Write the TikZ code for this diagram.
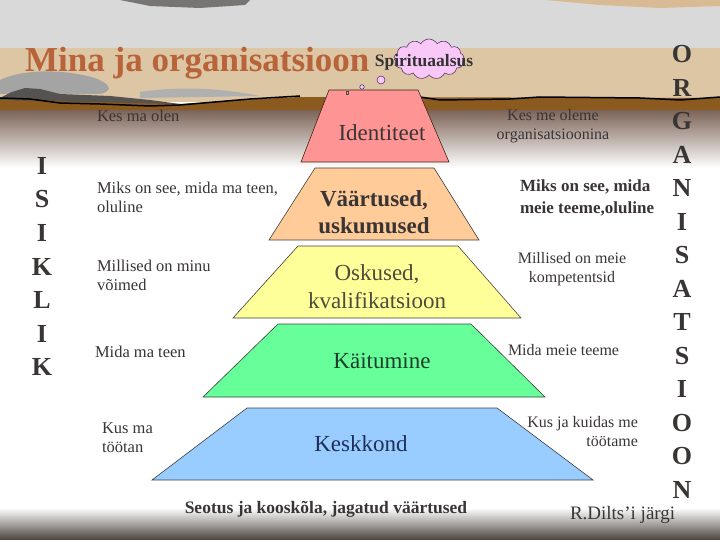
\documentclass[tikz,border=0pt]{standalone}
\usepackage{fontspec}
\setmainfont{Liberation Serif}
\usetikzlibrary{shapes.symbols}
\definecolor{sky}{HTML}{D9D9D9}
\definecolor{sand}{HTML}{DCC6A3}
\definecolor{hillgrey}{HTML}{8E8E8E}
\definecolor{hilldark}{HTML}{555250}
\definecolor{mudbrown}{HTML}{8B5A1E}
\definecolor{fadebrown}{HTML}{7E665A}
\definecolor{floordark}{HTML}{4B423A}
\definecolor{titlecol}{HTML}{B8633A}
\definecolor{txt}{HTML}{3A3535}
\definecolor{cloudfill}{HTML}{F9C8F9}
\definecolor{cloudline}{HTML}{5A3A6A}
\definecolor{pinkf}{HTML}{FF9494}
\definecolor{orangef}{HTML}{FFCC99}
\definecolor{yellowf}{HTML}{FFFF99}
\definecolor{greenf}{HTML}{66FF99}
\definecolor{bluef}{HTML}{99CCFF}
\definecolor{greentxt}{HTML}{1E3F2B}
\definecolor{bluetxt}{HTML}{1F2F5A}
\newcommand\fsz[2]{\fontsize{#1}{#2}\selectfont}
\begin{document}
\begin{tikzpicture}[x=1pt,y=-1pt,
  lbl/.style={inner sep=0pt,outer sep=0pt,text=txt},
  bigletter/.style={inner sep=0pt,outer sep=0pt,text=txt,font=\fsz{26}{30}\bfseries},
  tier/.style={draw=black!75,line width=0.6pt},
  bubble/.style={circle,draw=cloudline,fill=cloudfill,inner sep=0pt,line width=0.6pt}]
\useasboundingbox (0,0) rectangle (720,540);
% background
\fill[white] (0,0) rectangle (720,540);
\fill[sky] (0,0) rectangle (720,52);
\fill[hilldark!80] (120,0) -- (250,0) -- (245,5) -- (200,8) -- (150,6) -- cycle;
\fill[sand!85!brown] (545,0) -- (720,0) -- (720,6) -- (660,8) -- (600,5) -- cycle;
\fill[sand] (0,48) rectangle (720,102);
\fill[hillgrey!80] (0,80) .. controls (20,70) and (60,68) .. (95,78) .. controls (115,86) and (110,92) .. (100,94) -- (0,94) -- cycle;
\fill[hillgrey!70] (140,92) .. controls (180,86) and (220,88) .. (260,96) -- (140,98) -- cycle;
\fill[hilldark] (0,98) -- (12,92) -- (25,88) -- (40,89) -- (60,94) -- (110,96) -- (150,100) -- (180,104) -- (0,106) -- cycle;
\fill[mudbrown] (0,100) -- (180,104) -- (240,100) -- (300,97) -- (720,98) -- (720,112) -- (0,112) -- cycle;
\draw[black,line width=1.5pt] (0,98) -- (30,99) -- (60,103) -- (100,104) -- (150,106) -- (180,105) -- (250,99) -- (300,96)
  (420,97) -- (440,100) -- (510,99) -- (540,97) -- (640,98) -- (680,100) -- (720,97);
\shade[top color=fadebrown,bottom color=white] (0,111) rectangle (720,168);
\shade[top color=white,bottom color=floordark] (0,508) rectangle (720,540);
% title
\node[inner sep=0pt,anchor=base west,text=titlecol,font=\fsz{35}{40}\bfseries] (title) at (25,72) {Mina ja organisatsioon};
% cloud
\node[cloud,cloud puffs=13,cloud puff arc=120,aspect=1.7,draw=cloudline,fill=cloudfill,line width=0.6pt,
  minimum width=70pt,minimum height=40pt,inner sep=0pt] (cloud) at (429,59) {};
\node[bubble,minimum size=8pt] (bub1) at (381,80) {};
\node[bubble,minimum size=4.5pt] (bub2) at (362,87) {};
\node[lbl,font=\fsz{17.5}{20}\bfseries,text=black!80] (spirit) at (424,62) {Spirituaalsus};
% pyramid
\fill[pinkf,tier,draw=black!70!brown] (329,90) -- (418,90) -- (449,162) -- (301,162) -- cycle;
\draw[black!70,line width=0.5pt] (346,91.5) rectangle (348.5,94);
\fill[orangef,tier] (315,168) -- (434,168) -- (479,240) -- (269,240) -- cycle;
\fill[yellowf,tier] (298,246) -- (458,246) -- (521,318) -- (233,318) -- cycle;
\fill[greenf,tier] (278,324) -- (471,324) -- (545,397) -- (203,397) -- cycle;
\fill[bluef,tier] (247,408) -- (497,408) -- (593,480) -- (152,480) -- cycle;
% tier texts
\node[lbl,font=\fsz{23}{27}] (ident) at (382,132.5) {Identiteet};
\node[lbl,font=\fsz{23}{27}\bfseries,align=center] (vaart) at (374,212) {Väärtused,\\uskumused};
\node[lbl,font=\fsz{23}{28},align=center,text=black!80!yellow] (osk) at (377,286.5) {Oskused,\\kvalifikatsioon};
\node[lbl,font=\fsz{23}{27},text=greentxt] (kait) at (382,361) {Käitumine};
\node[lbl,font=\fsz{23}{27},text=bluetxt] (kesk) at (361,444) {Keskkond};
\node[lbl,anchor=base,font=\fsz{17.5}{20}\bfseries] (seotus) at (326,513) {Seotus ja kooskõla, jagatud väärtused};
% left labels
\node[lbl,anchor=west,font=\fsz{16.5}{19}] (l1) at (97,116) {Kes ma olen};
\node[lbl,anchor=west,align=left,font=\fsz{16.5}{19}] (l2) at (97,197.5) {Miks on see, mida ma teen,\\oluline};
\node[lbl,anchor=west,align=left,font=\fsz{16.5}{19}] (l3) at (97,275.5) {Millised on minu\\võimed};
\node[lbl,anchor=west,font=\fsz{16.5}{19}] (l4) at (95,352) {Mida ma teen};
\node[lbl,anchor=west,align=left,font=\fsz{16.5}{19}] (l5) at (102,437.5) {Kus ma\\töötan};
% right labels
\node[lbl,align=center,font=\fsz{16}{18.5}] (r1) at (553,126) {Kes me oleme\\organisatsioonina};
\node[lbl,anchor=west,align=left,font=\fsz{17}{22}\bfseries] (r2) at (520,198) {Miks on see, mida\\meie teeme,oluline};
\node[lbl,align=center,font=\fsz{16}{18.5}] (r3) at (572,269) {Millised on meie\\kompetentsid};
\node[lbl,anchor=west,font=\fsz{16}{19}] (r4) at (508,350) {Mida meie teeme};
\node[lbl,anchor=east,align=right,font=\fsz{16}{19}] (r5) at (638,431.5) {Kus ja kuidas me\\töötame};
\node[lbl,anchor=base west,font=\fsz{19}{22}] (dilts) at (570,519.5) {R.Dilts’i järgi};
% vertical words
\foreach \c [count=\i] in {I,S,I,K,L,I,K}
  \node[bigletter] (isik\i) at (42,{166+33.5*(\i-1)}) {\c};
\foreach \c [count=\i] in {O,R,G,A,N,I,S,A,T,S,I,O,O,N}
  \node[bigletter] (org\i) at (682,{54+33.54*(\i-1)}) {\c};
\end{tikzpicture}
\end{document}
